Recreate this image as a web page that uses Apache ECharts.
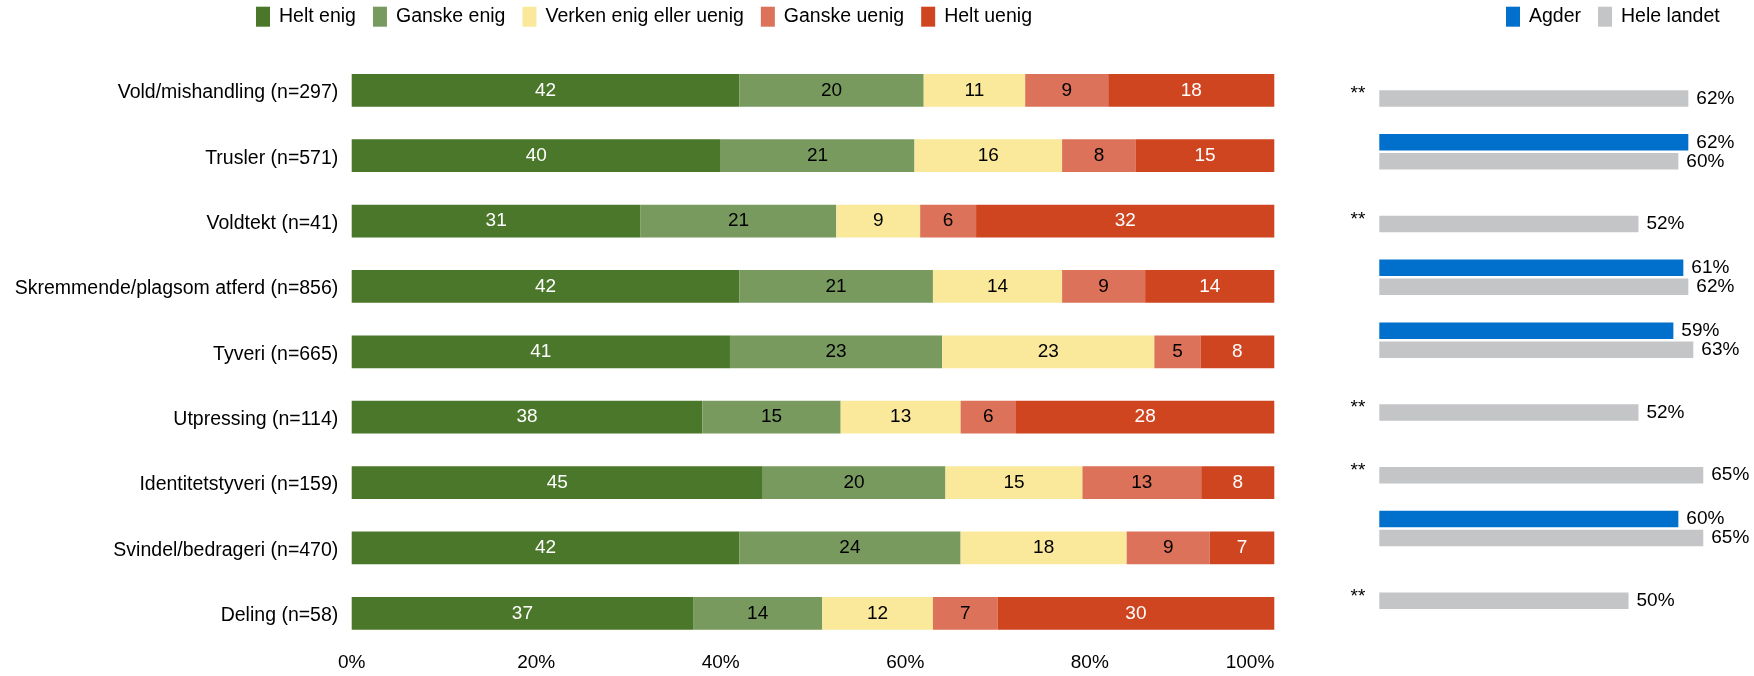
<!DOCTYPE html>
<html>
<head>
<meta charset="utf-8">
<script src="https://cdn.jsdelivr.net/npm/echarts@6/dist/echarts.min.js"></script>
<style>
  html, body { margin: 0; padding: 0; background: #fff; }
  #chart { width: 1754px; height: 676px; }
</style>
</head>
<body>
<div id="chart"></div>
<script>
// categories (top to bottom)
const categories = [
  'Vold/mishandling (n=297)',
  'Trusler (n=571)',
  'Voldtekt (n=41)',
  'Skremmende/plagsom atferd (n=856)',
  'Tyveri (n=665)',
  'Utpressing (n=114)',
  'Identitetstyveri (n=159)',
  'Svindel/bedrageri (n=470)',
  'Deling (n=58)'
];

// left: share of answers, percent
const heltEnig    = [42, 40, 31, 42, 41, 38, 45, 42, 37];
const ganskeEnig  = [20, 21, 21, 21, 23, 15, 20, 24, 14];
const verken      = [11, 16,  9, 14, 23, 13, 15, 18, 12];
const ganskeUenig = [ 9,  8,  6,  9,  5,  6, 13,  9,  7];
const heltUenig   = [18, 15, 32, 14,  8, 28,  8,  7, 30];

// right: Agder vs whole country, percent (null = too few answers)
const agder      = [null, 62, null, 61, 59, null, null, 60, null];
const heleLandet = [62, 60, 52, 62, 63, 52, 65, 65, 50];
const signif     = ['**', '', '**', '', '', '**', '**', '', '**'];

const xTicks = [0, 20, 40, 60, 80, 100];

const FONT = 'Liberation Sans, Arial, sans-serif';

const answerSeries = [
  { name: 'Helt enig', data: heltEnig, color: '#4a7729', text: '#ffffff' },
  { name: 'Ganske enig', data: ganskeEnig, color: '#789a5f', text: '#000000' },
  { name: 'Verken enig eller uenig', data: verken, color: '#fae99a', text: '#000000' },
  { name: 'Ganske uenig', data: ganskeUenig, color: '#db7259', text: '#000000' },
  { name: 'Helt uenig', data: heltUenig, color: '#cf4520', text: '#ffffff' }
];

// 100% stacked: scale each row to its own total
const rowSum = categories.map((c, i) =>
  answerSeries.reduce((s, a) => s + a.data[i], 0));

const chart = echarts.init(document.getElementById('chart'));

const leftSeries = answerSeries.map(a => ({
  name: a.name,
  type: 'bar',
  stack: 'svar',
  xAxisIndex: 0,
  yAxisIndex: 0,
  barWidth: 32.7,
  itemStyle: { color: a.color },
  label: {
    show: true,
    position: 'inside',
    color: a.text,
    fontFamily: FONT,
    fontSize: 19,
    formatter: p => a.data[p.dataIndex]
  },
  data: a.data.map((v, i) => v / rowSum[i] * 100)
}));

const rightSeries = [
  { name: 'Agder', data: agder, color: '#0070cc' },
  { name: 'Hele landet', data: heleLandet, color: '#c4c5c7' }
].map(s => ({
  name: s.name,
  type: 'bar',
  xAxisIndex: 1,
  yAxisIndex: 1,
  barWidth: 16.5,
  barGap: '15%',
  itemStyle: { color: s.color },
  label: {
    show: true,
    position: 'right',
    distance: 8,
    color: '#000',
    fontFamily: FONT,
    fontSize: 19,
    formatter: '{c}%'
  },
  data: s.data
}));

const legendBase = {
  top: 6.7,
  padding: 0,
  itemWidth: 14,
  itemHeight: 20,
  itemGap: 17,
  icon: 'rect',
  textStyle: { fontFamily: FONT, fontSize: 19.5, color: '#000', padding: [0, 0, 0, 4] }
};

const option = {
  animation: false,
  backgroundColor: '#fff',
  textStyle: { fontFamily: FONT },
  legend: [
    Object.assign({}, legendBase, { data: answerSeries.map(a => a.name), left: 256 }),
    Object.assign({}, legendBase, { data: ['Agder', 'Hele landet'], left: 1506 })
  ],
  grid: [
    { left: 351.7, top: 57.6, width: 922.6, height: 588.4 },
    { left: 1379.3, top: 57.6, width: 348.9, height: 565.1 }
  ],
  xAxis: [
    {
      gridIndex: 0,
      type: 'value',
      min: xTicks[0],
      max: xTicks[xTicks.length - 1],
      interval: xTicks[1] - xTicks[0],
      axisLine: { show: false },
      axisTick: { show: false },
      splitLine: { show: false },
      axisLabel: {
        margin: 7,
        fontFamily: FONT,
        fontSize: 19,
        color: '#000',
        formatter: '{value}%',
        alignMaxLabel: 'right'
      }
    },
    {
      gridIndex: 1,
      type: 'value',
      min: 0,
      max: 70,
      show: false
    }
  ],
  yAxis: [
    {
      gridIndex: 0,
      type: 'category',
      inverse: true,
      data: categories,
      axisLine: { show: false },
      axisTick: { show: false },
      axisLabel: {
        margin: 13.4,
        color: '#000',
        formatter: v => '{c|' + v + '}',
        rich: { c: { fontFamily: FONT, fontSize: 19.5, color: '#000', padding: [5, 0, 0, 0] } }
      }
    },
    {
      gridIndex: 1,
      type: 'category',
      inverse: true,
      data: signif,
      axisLine: { show: false },
      axisTick: { show: false },
      axisLabel: {
        margin: 14,
        color: '#000',
        formatter: v => v ? '{s|' + v + '}' : '',
        rich: { s: { fontFamily: FONT, fontSize: 19, color: '#000', padding: [10, 0, 0, 0] } }
      }
    }
  ],
  series: leftSeries.concat(rightSeries)
};

chart.setOption(option);
</script>
</body>
</html>
